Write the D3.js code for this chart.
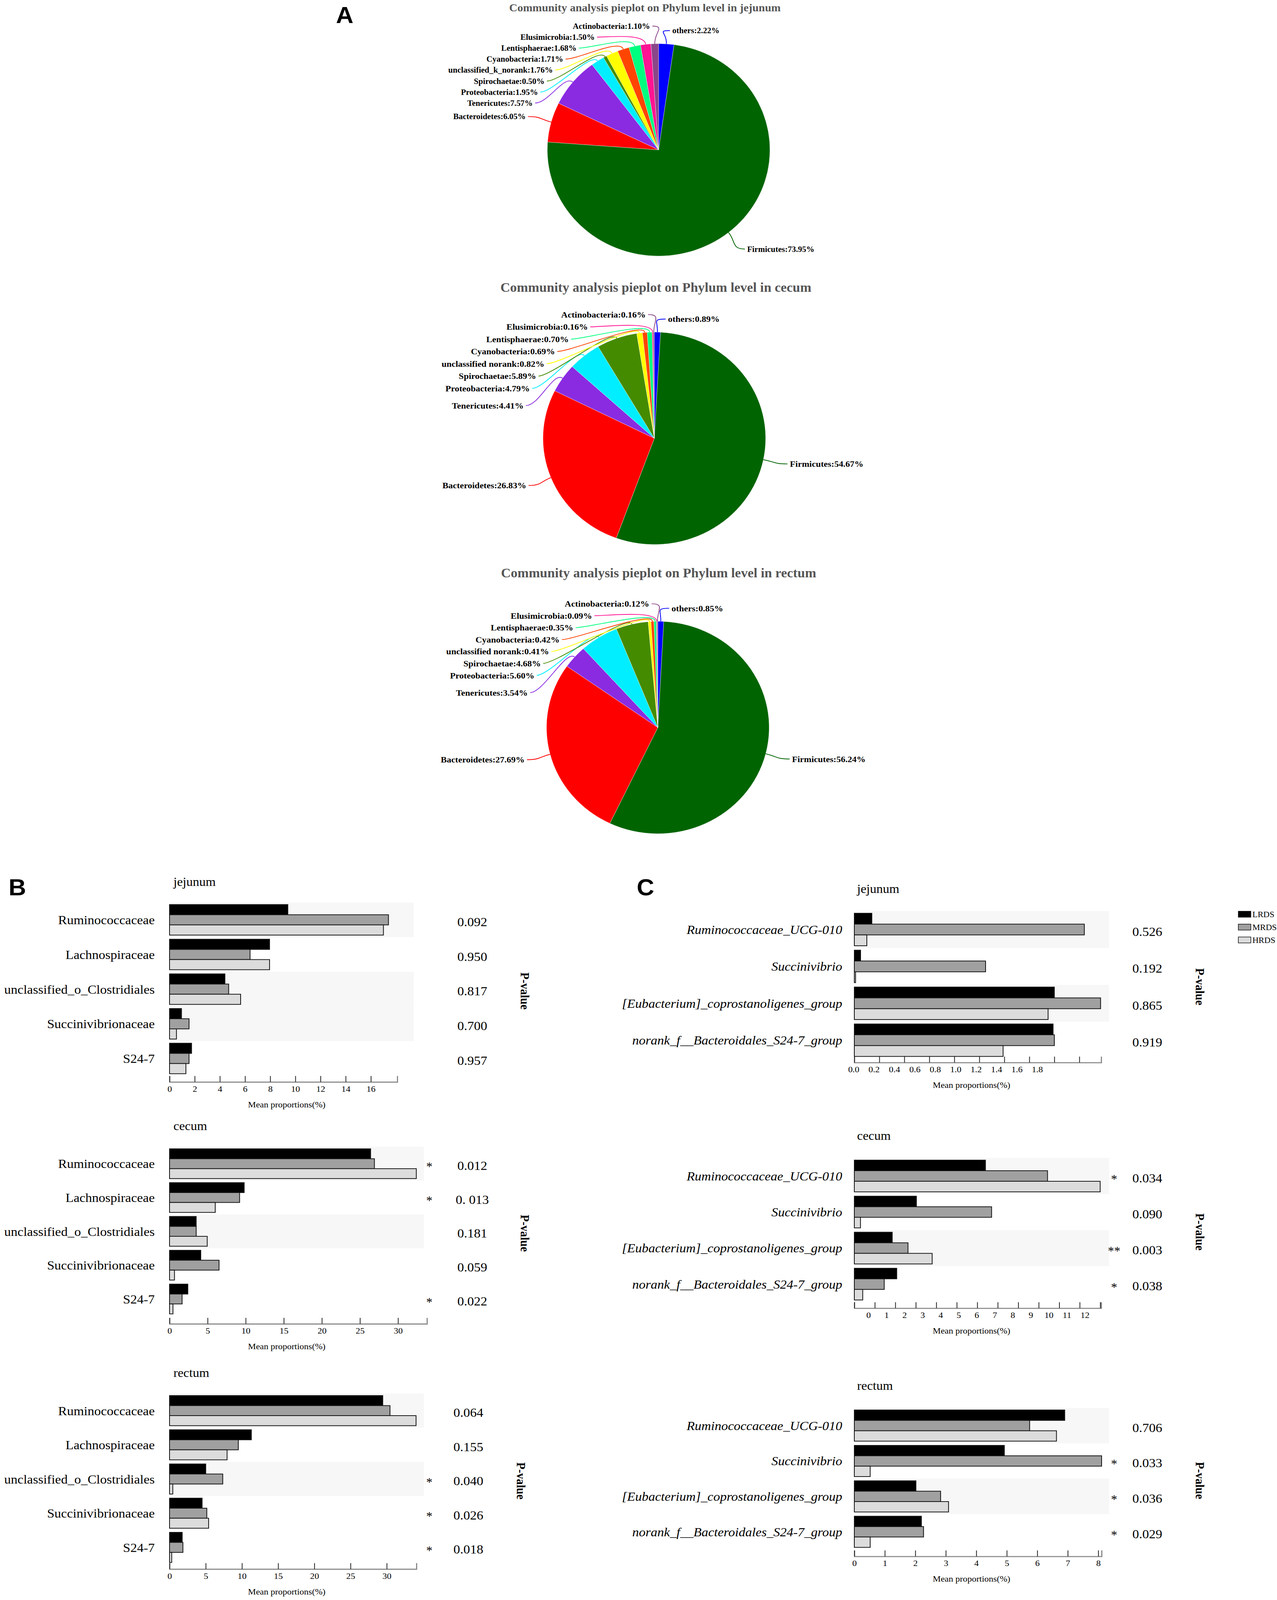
<!DOCTYPE html>
<html>
<head>
<meta charset="utf-8">
<script src="https://cdn.jsdelivr.net/npm/d3@7"></script>
<style>
html, body { margin: 0; padding: 0; background: #fff; overflow: hidden; }
svg { display: block; }
text { font-family: "Liberation Serif", "Times New Roman", serif; }
</style>
</head>
<body>
<div id="chart"></div>
<script>
// ---- pie data (percent, drawn clockwise from 12 o'clock) ----
var phyla = ["others", "Firmicutes", "Bacteroidetes", "Tenericutes", "Proteobacteria",
  "Spirochaetae", "unclassified norank", "Cyanobacteria", "Lentisphaerae", "Elusimicrobia", "Actinobacteria"];
var phylaJejunum = ["others", "Firmicutes", "Bacteroidetes", "Tenericutes", "Proteobacteria",
  "Spirochaetae", "unclassified_k_norank", "Cyanobacteria", "Lentisphaerae", "Elusimicrobia", "Actinobacteria"];
var jejunumPhylum = [2.22, 73.95, 6.05, 7.57, 1.95, 0.50, 1.76, 1.71, 1.68, 1.50, 1.10];
var cecumPhylum   = [0.89, 54.67, 26.83, 4.41, 4.79, 5.89, 0.82, 0.69, 0.70, 0.16, 0.16];
var rectumPhylum  = [0.85, 56.24, 27.69, 3.54, 5.60, 4.68, 0.41, 0.42, 0.35, 0.09, 0.12];
var phylumColors = ["#0000ff", "#006400", "#ff0000", "#8a2be2", "#00eeff",
  "#458b00", "#ffff00", "#ff4500", "#00ff7f", "#ff1493", "#8b4789"];

// ---- bar data ----
var groups = ["LRDS", "MRDS", "HRDS"];
var groupColors = ["#000000", "#a0a0a0", "#dcdcdc"];

var families = ["Ruminococcaceae", "Lachnospiraceae", "unclassified_o_Clostridiales", "Succinivibrionaceae", "S24-7"];
var genera = ["Ruminococcaceae_UCG-010", "Succinivibrio", "[Eubacterium]_coprostanoligenes_group", "norank_f__Bacteroidales_S24-7_group"];

// rows: LRDS, MRDS, HRDS
var famJejunum = [[9.4, 7.95, 4.4, 0.95, 1.75], [17.4, 6.4, 4.7, 1.55, 1.55], [17.0, 7.95, 5.65, 0.55, 1.3]];
var famCecum   = [[26.4, 9.8, 3.5, 4.1, 2.4], [26.9, 9.2, 3.5, 6.5, 1.65], [32.4, 6.0, 4.95, 0.65, 0.45]];
var famRectum  = [[29.45, 11.3, 5.0, 4.5, 1.75], [30.45, 9.5, 7.35, 5.15, 1.85], [34.05, 7.95, 0.45, 5.4, 0.3]];
var genJejunum = [[0.14, 0.05, 1.6, 1.59], [1.84, 1.05, 1.97, 1.6], [0.10, 0.01, 1.55, 1.19]];
var genCecum   = [[6.4, 3.03, 1.85, 2.07], [9.43, 6.7, 2.62, 1.46], [12.0, 0.3, 3.8, 0.41]];
var genRectum  = [[6.9, 4.92, 2.02, 2.2], [5.75, 8.11, 2.83, 2.27], [6.63, 0.52, 3.09, 0.52]];

var famJejunumP = ["0.092", "0.950", "0.817", "0.700", "0.957"];
var famCecumP   = ["0.012", "0. 013", "0.181", "0.059", "0.022"];
var famRectumP  = ["0.064", "0.155", "0.040", "0.026", "0.018"];
var genJejunumP = ["0.526", "0.192", "0.865", "0.919"];
var genCecumP   = ["0.034", "0.090", "0.003", "0.038"];
var genRectumP  = ["0.706", "0.033", "0.036", "0.029"];

var famJejunumStars = ["", "", "", "", ""];
var famCecumStars   = ["*", "*", "", "", "*"];
var famRectumStars  = ["", "", "*", "*", "*"];
var genJejunumStars = ["", "", "", ""];
var genCecumStars   = ["*", "", "**", "*"];
var genRectumStars  = ["", "*", "*", "*"];

var ticksFamJejunum = [0, 2, 4, 6, 8, 10, 12, 14, 16];
var ticksFam = [0, 5, 10, 15, 20, 25, 30];
var ticksGenJejunum = [0, 0.2, 0.4, 0.6, 0.8, 1.0, 1.2, 1.4, 1.6, 1.8];
var ticksGenCecum = [0, 1, 2, 3, 4, 5, 6, 7, 8, 9, 10, 11, 12];
var ticksGenRectum = [0, 1, 2, 3, 4, 5, 6, 7, 8];

// drawing is laid out on a 3269 x 4293 canvas and fitted to the window
var W = 3269, H = 4293;
var vw = window.innerWidth || W, vh = window.innerHeight || H;
var svg = d3.select('#chart').append('svg')
  .attr('width', vw)
  .attr('height', vh)
  .attr('viewBox', '0 0 ' + W + ' ' + H)
  .attr('preserveAspectRatio', 'none');

// panel letters
[["A", 860, 62], ["B", 22, 2402], ["C", 1630, 2402]].forEach(function(l) {
  svg.append('text')
    .attr('x', l[1]).attr('y', l[2])
    .style('font-family', '"Liberation Sans", Arial, sans-serif')
    .attr('font-weight', 'bold')
    .attr('font-size', '62px')
    .text(l[0]);
});

//---------------- pies ----------------
function drawPie(o) {
  var g = svg.append('g')
    .attr('transform', 'translate(' + o.cx + ',' + o.cy + ')');

  var data = o.names.map(function(n, i) {
    return { name: n, v: o.values[i], color: phylumColors[i] };
  });
  var arcs = d3.pie().sort(null).value(function(d) { return d.v; })(data);
  var arc = d3.arc().innerRadius(0).outerRadius(o.r);

  g.selectAll('path.slice')
    .data(arcs)
    .enter().append('path')
    .attr('class', 'slice')
    .attr('d', arc)
    .attr('fill', function(d) { return d.data.color; })
    .attr('stroke', '#ffffff')
    .attr('stroke-width', 0.6);

  svg.append('text')
    .attr('x', o.titleX)
    .attr('y', o.titleY)
    .attr('dy', '0.35em')
    .attr('text-anchor', 'middle')
    .attr('font-weight', 'bold')
    .attr('font-size', o.titleSize + 'px')
    .attr('fill', '#555555')
    .text(o.title);

  var R = o.r * 1.2;
  var topY = -o.r - 47;

  arcs.forEach(function(a, i) {
    var mid = (a.startAngle + a.endAngle) / 2;
    var ex = Math.sin(mid) * o.r, ey = -Math.cos(mid) * o.r;
    var lx, ly, anchor;
    if (i === 0) {
      lx = 35; ly = topY + 12; anchor = 'start';
    } else if (i === 1 || i === 2) {
      var px = Math.sin(mid) * R, py = -Math.cos(mid) * R;
      anchor = px > 0 ? 'start' : 'end';
      lx = px > 0 ? px + 12 : px - 10;
      ly = py;
    } else {
      // small slices: stacked column on the upper left
      var k = 10 - i;
      ly = topY + k * o.step + (k === 7 ? (o.lastGap - 1) * o.step : 0);
      lx = k === 0 ? -22 : -Math.sqrt(Math.max(R * R - ly * ly, 0)) - 4;
      anchor = 'end';
    }
    var sgn = anchor === 'end' ? 1 : -1;
    var f = 1 + 30 / o.r;
    var path = d3.path();
    path.moveTo(ex, ey);
    path.bezierCurveTo(ex * f, ey * f, lx + sgn * 40, ly, lx + sgn * 6, ly);
    g.append('path')
      .attr('d', path.toString())
      .attr('fill', 'none')
      .attr('stroke', a.data.color)
      .attr('stroke-width', 2);
    g.append('text')
      .attr('x', lx)
      .attr('y', ly)
      .attr('dy', '0.35em')
      .attr('text-anchor', anchor)
      .attr('font-weight', 'bold')
      .attr('font-size', o.labelSize + 'px')
      .text(a.data.name + ':' + a.data.v.toFixed(2) + '%');
  });
}

drawPie({ title: 'Community analysis pieplot on Phylum level in jejunum', names: phylaJejunum, values: jejunumPhylum,
  cx: 1686, cy: 402, r: 285, titleX: 1651, titleY: 20, titleSize: 29, labelSize: 21, step: 29.5, lastGap: 1.0 });
drawPie({ title: 'Community analysis pieplot on Phylum level in cecum', names: phyla, values: cecumPhylum,
  cx: 1675, cy: 1176, r: 285, titleX: 1679, titleY: 771, titleSize: 34.5, labelSize: 23, step: 33, lastGap: 1.4 });
drawPie({ title: 'Community analysis pieplot on Phylum level in rectum', names: phyla, values: rectumPhylum,
  cx: 1684, cy: 1952, r: 285, titleX: 1686, titleY: 1537, titleSize: 34.5, labelSize: 23, step: 32, lastGap: 1.45 });

//---------------- bar panels ----------------
function drawBars(p) {
  var g = svg.append('g');
  var x = d3.scaleLinear().domain([0, p.max]).range([p.x0, p.x0 + p.len]);
  var row = d3.scaleBand().domain(p.names).range([p.top, p.top + p.step * p.names.length]);
  var sub = d3.scaleBand().domain(groups).range([row.bandwidth() * 0.06, row.bandwidth() * 0.94]);

  // shaded rows
  g.selectAll('rect.band')
    .data(p.names.filter(function(d, i) { return p.bands.indexOf(i) >= 0; }))
    .enter().append('rect')
    .attr('x', x(0))
    .attr('y', function(d) { return row(d); })
    .attr('width', p.bandW)
    .attr('height', row.bandwidth())
    .attr('fill', '#f7f7f7');

  var cells = [];
  p.means.forEach(function(vals, j) {
    vals.forEach(function(v, i) {
      cells.push({ name: p.names[i], group: groups[j], color: groupColors[j], v: v });
    });
  });
  g.selectAll('rect.bar')
    .data(cells)
    .enter().append('rect')
    .attr('class', 'bar')
    .attr('x', x(0))
    .attr('y', function(d) { return row(d.name) + sub(d.group); })
    .attr('width', function(d) { return x(d.v) - x(0); })
    .attr('height', sub.bandwidth())
    .attr('fill', function(d) { return d.color; })
    .attr('stroke', '#111')
    .attr('stroke-width', 2);

  // category labels
  g.selectAll('text.cat')
    .data(p.names)
    .enter().append('text')
    .attr('x', x(0) - p.labelGap)
    .attr('y', function(d) { return row(d) + row.bandwidth() / 2; })
    .attr('dy', '0.35em')
    .attr('text-anchor', 'end')
    .attr('font-size', '34px')
    .attr('font-style', p.italic ? 'italic' : 'normal')
    .text(function(d) { return d; });

  // stars and p-values
  g.selectAll('text.star')
    .data(p.stars)
    .enter().append('text')
    .attr('x', x(0) + 665)
    .attr('y', function(d, i) { return row(p.names[i]) + row.bandwidth() / 2 + 8; })
    .attr('dy', '0.35em')
    .attr('text-anchor', 'middle')
    .attr('font-size', '32px')
    .text(function(d) { return d; });

  g.selectAll('text.pval')
    .data(p.pvals)
    .enter().append('text')
    .attr('x', x(0) + p.pGap)
    .attr('y', function(d, i) { return row(p.names[i]) + row.bandwidth() / 2 + 5; })
    .attr('dy', '0.35em')
    .attr('text-anchor', 'middle')
    .attr('font-size', '34px')
    .text(function(d) { return d; });

  var midY = p.top + p.step * p.names.length / 2 + 5;
  g.append('text')
    .attr('transform', 'translate(' + (x(0) + p.pGap + 135) + ',' + midY + ') rotate(90)')
    .attr('text-anchor', 'middle')
    .attr('dy', '0.35em')
    .attr('font-weight', 'bold')
    .attr('font-size', '31px')
    .text('P-value');

  // axis: tick marks
  var tickAxis = d3.axisTop(x)
    .tickValues(p.ticks)
    .tickSize(16)
    .tickSizeOuter(16)
    .tickFormat('');
  var ta = g.append('g')
    .attr('transform', 'translate(0,' + p.axisY + ')')
    .call(tickAxis);
  ta.select('.domain').attr('stroke', '#8c8c8c').attr('stroke-width', 3);
  ta.selectAll('.tick line').attr('stroke', '#222').attr('stroke-width', 2);

  // axis: tick labels (placed as in the original figure)
  var lab = p.labelRange
    ? d3.scaleLinear().domain([0, p.ticks[p.ticks.length - 1]]).range(p.labelRange)
    : x;
  var la = g.append('g')
    .attr('transform', 'translate(0,' + (p.axisY + 6) + ')')
    .call(d3.axisBottom(lab).tickValues(p.ticks).tickSize(0).tickPadding(4).tickFormat(d3.format(p.fmt)));
  la.select('.domain').remove();
  la.selectAll('text')
    .attr('font-size', '23px')
    .attr('fill', '#000')
    .style('font-family', '"Liberation Serif", serif');

  g.append('text')
    .attr('x', x(0) + 300)
    .attr('y', p.axisY + 60)
    .attr('dy', '0.35em')
    .attr('text-anchor', 'middle')
    .attr('font-size', '23px')
    .text('Mean proportions(%)');

  g.append('text')
    .attr('x', x(0) + p.titleDx)
    .attr('y', p.top - p.titleUp)
    .attr('dy', '0.35em')
    .attr('font-size', '33px')
    .text(p.title);
}

var famBase = { names: families, italic: false, labelGap: 38, pGap: 775, bandW: 651, titleDx: 10, titleUp: 56 };
var genBase = { names: genera, italic: true, labelGap: 31, pGap: 750, bandW: 652, titleDx: 7, titleUp: 60 };

drawBars(Object.assign({}, famBase, { title: 'jejunum', means: famJejunum, pvals: famJejunumP, stars: famJejunumStars,
  x0: 434, len: 583, max: 18.1, top: 2421.5, step: 93, axisY: 2903, bands: [0, 2, 3], bandW: 625,
  ticks: ticksFamJejunum, fmt: 'd' }));
drawBars(Object.assign({}, famBase, { title: 'cecum', means: famCecum, pvals: famCecumP, stars: famCecumStars,
  x0: 434, len: 659, max: 33.8, top: 3077, step: 90.75, axisY: 3552, bands: [0, 2],
  ticks: ticksFam, fmt: 'd' }));
drawBars(Object.assign({}, famBase, { title: 'rectum', means: famRectum, pvals: famRectumP, stars: famRectumStars,
  x0: 434, len: 632, max: 34.1, top: 3739, step: 91.75, axisY: 4210, bands: [0, 2],
  ticks: ticksFam, fmt: 'd', pGap: 765 }));

drawBars(Object.assign({}, genBase, { title: 'jejunum', means: genJejunum, pvals: genJejunumP, stars: genJejunumStars,
  x0: 2187, len: 632, max: 1.975, top: 2444.5, step: 99, axisY: 2851, bands: [0, 2],
  ticks: ticksGenJejunum, fmt: '.1f', labelRange: [2185, 2655] }));
drawBars(Object.assign({}, genBase, { title: 'cecum', means: genCecum, pvals: genCecumP, stars: genCecumStars,
  x0: 2187, len: 632, max: 12.05, top: 3107, step: 96.7, axisY: 3510, bands: [0, 2],
  ticks: ticksGenCecum, fmt: 'd', labelRange: [2223, 2777] }));
drawBars(Object.assign({}, genBase, { title: 'rectum', means: genRectum, pvals: genRectumP, stars: genRectumStars,
  x0: 2187, len: 633, max: 8.11, top: 3777.5, step: 95, axisY: 4176, bands: [0, 2],
  ticks: ticksGenRectum, fmt: 'd' }));

// legend
var legend = svg.append('g').attr('transform', 'translate(3170,2453)');
groups.forEach(function(gname, i) {
  legend.append('rect')
    .attr('x', 0).attr('y', i * 34.5 - 8)
    .attr('width', 32).attr('height', 16)
    .attr('fill', groupColors[i])
    .attr('stroke', '#111').attr('stroke-width', 1.5);
  legend.append('text')
    .attr('x', 36).attr('y', i * 34.5)
    .attr('dy', '0.35em')
    .attr('font-size', '22px')
    .text(gname);
});
</script>
</body>
</html>
